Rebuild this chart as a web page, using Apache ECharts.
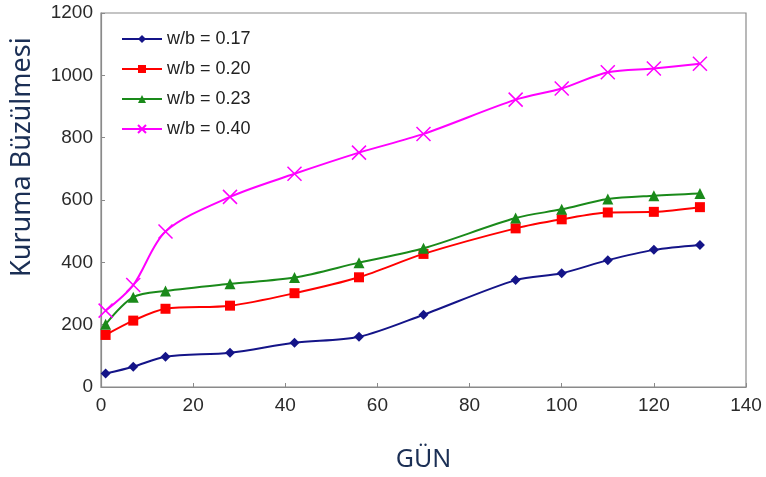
<!DOCTYPE html>
<html>
<head>
<meta charset="utf-8">
<script src="https://cdn.jsdelivr.net/npm/echarts@6/dist/echarts.min.js"></script>
<style>html,body{margin:0;padding:0;background:#fff}#c{width:766px;height:477px}</style>
</head>
<body>
<div id="c"></div>
<script>
const days = [1, 7, 14, 28, 42, 56, 70, 90, 100, 110, 120, 130];
const seriesNames = ['w/b = 0.17', 'w/b = 0.20', 'w/b = 0.23', 'w/b = 0.40'];
const wb017 = [43, 65, 97, 110, 142, 161, 232, 343, 365, 407, 440, 456];
const wb020 = [167, 213, 251, 261, 301, 352, 427, 509, 538, 560, 562, 577];
const wb023 = [201, 288, 308, 331, 351, 399, 445, 542, 570, 603, 614, 621];
const wb040 = [245, 327, 499, 610, 684, 752, 812, 922, 958, 1010, 1022, 1037];
const xTicks = [0, 20, 40, 60, 80, 100, 120, 140];
const yTicks = [0, 200, 400, 600, 800, 1000, 1200];
const xTitle = 'GÜN';
const yTitle = 'Kuruma Büzülmesi';

const colors = ['#141488', '#ff0000', '#1a8a1a', '#ff00ff'];
const symbols = ['diamond', 'rect', 'triangle', 'path://M0,0L10,10M10,0L0,10'];
const sizes = [10, 10, 11, 14];
const allData = [wb017, wb020, wb023, wb040];

const chart = echarts.init(document.getElementById('c'), null, {renderer: 'canvas'});
const series = allData.map((vals, i) => ({
  name: seriesNames[i],
  type: 'line',
  data: days.map((d, j) => [d, vals[j]]),
  smooth: 0.3,
  symbol: symbols[i],
  symbolSize: sizes[i],
  showSymbol: true,
  lineStyle: {color: colors[i], width: 2},
  itemStyle: i === 3 ? {color: colors[i], borderColor: colors[i], borderWidth: 1.5} : {color: colors[i]},
  z: 2 + i
}));

const tickFont = {fontFamily: 'Liberation Sans, Arial', fontSize: 19, color: '#2a2a2a'};

chart.setOption({
  animation: false,
  backgroundColor: '#ffffff',
  grid: {left: 101, right: 20, top: 13, bottom: 90, show: true, borderColor: '#8a8a8a', borderWidth: 1.2},
  legend: {
    data: seriesNames,
    orient: 'vertical',
    left: 116,
    top: 25,
    itemWidth: 40,
    itemHeight: 10,
    itemGap: 12,
    textStyle: {fontFamily: 'Liberation Sans, Arial', fontSize: 18, color: '#222'}
  },
  graphic: [{
    type: 'text',
    style: {text: yTitle, font: '27px "Noto Sans", "Open Sans", sans-serif', fill: '#1b2f55'},
    rotation: Math.PI / 2,
    x: 9, y: 277
  }],
  xAxis: {
    type: 'value',
    min: 0, max: 140, interval: 20,
    name: xTitle,
    nameLocation: 'middle',
    nameGap: 60,
    nameTextStyle: {fontFamily: 'Noto Sans, Open Sans, sans-serif', fontSize: 25, color: '#1b2f55'},
    axisLine: {show: true, lineStyle: {color: '#8a8a8a', width: 1.2}},
    axisTick: {show: true, inside: true, length: 4, lineStyle: {color: '#8a8a8a'}},
    axisLabel: Object.assign({margin: 9, formatter: v => xTicks.includes(v) ? String(v) : ''}, tickFont),
    splitLine: {show: false}
  },
  yAxis: {
    type: 'value',
    min: 0, max: 1200, interval: 200,
    axisLine: {show: true, lineStyle: {color: '#8a8a8a', width: 1.2}},
    axisTick: {show: true, inside: true, length: 4, lineStyle: {color: '#8a8a8a'}},
    axisLabel: Object.assign({margin: 8, formatter: v => yTicks.includes(v) ? String(v) : ''}, tickFont),
    splitLine: {show: false}
  },
  series: series
});
</script>
</body>
</html>
